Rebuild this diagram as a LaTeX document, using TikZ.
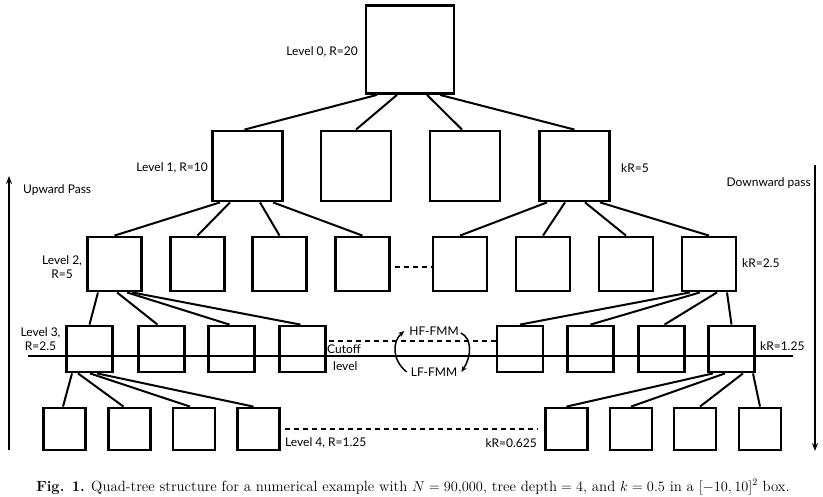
\documentclass[tikz,border=0pt]{standalone}
\usepackage{fontspec}
\newfontfamily\labelfont{Lato}
\usetikzlibrary{arrows.meta}
\tikzset{
  qbox/.style={draw, line width=2.8pt, inner sep=0pt, minimum width=#1, minimum height=#1},
  link/.style={line width=2pt},
  dotlink/.style={line width=2pt, dash pattern=on 5pt off 4pt},
  lbl/.style={font=\labelfont\fontsize{12}{13}\selectfont, inner sep=0pt},
  passarrow/.style={line width=1.4pt, -{Stealth[length=8pt,width=6pt]}},
  fmmarrow/.style={line width=1.5pt, -{Stealth[length=6pt,width=5pt]}}
}
\begin{document}
\begin{tikzpicture}[x=1pt,y=-1pt]
\useasboundingbox (0,0) rectangle (823,497);
% Level 0
\node[qbox=88pt] (L0) at (410,49.5) {};
% Level 1
\foreach \n/\x in {a/247.5,b/356,c/465,d/574.5}
  \node[qbox=70pt] (L1\n) at (\x,166) {};
% Level 2
\foreach \n/\x in {a/114.5,b/197.5,c/279.5,d/362.5,e/460,f/543,g/626,h/709}
  \node[qbox=54pt] (L2\n) at (\x,264) {};
% Level 3
\foreach \n/\x in {a/89.5,b/161.5,c/231.5,d/302.5,e/520,f/590.5,g/661.5,h/731.5}
  \node[qbox=46pt] (L3\n) at (\x,349) {};
% Level 4
\foreach \n/\x in {a/64.5,b/129.5,c/194,d/258.5,e/566.5,f/631,g/695,h/760}
  \node[qbox=42pt] (L4\n) at (\x,429) {};

% connectors level 0 -> 1
\draw[link] ([xshift=-33pt]L0.south) -- ([xshift=-3pt]L1a.north);
\draw[link] ([xshift=-13pt]L0.south) -- (L1b.north);
\draw[link] ([xshift=17pt]L0.south) -- ([xshift=-3pt]L1c.north);
\draw[link] ([xshift=30pt]L0.south) -- (L1d.north);
% level 1 -> 2
\draw[link] ([xshift=-27.5pt]L1a.south) -- (L2a.north);
\draw[link] ([xshift=-17.5pt]L1a.south) -- (L2b.north);
\draw[link] ([xshift=12.5pt]L1a.south) -- (L2c.north);
\draw[link] ([xshift=25.5pt]L1a.south) -- (L2d.north);
\draw[link] ([xshift=-27.5pt]L1d.south) -- (L2e.north);
\draw[link] ([xshift=-9.5pt]L1d.south) -- (L2f.north);
\draw[link] ([xshift=10.5pt]L1d.south) -- (L2g.north);
\draw[link] ([xshift=25.5pt]L1d.south) -- (L2h.north);
% level 2 -> 3
\draw[link] ([xshift=-16.5pt]L2a.south) -- (L3a.north);
\draw[link] ([xshift=2.5pt]L2a.south) -- ([xshift=-4pt]L3b.north);
\draw[link] ([xshift=12.5pt]L2a.south) -- ([xshift=-2pt]L3c.north);
\draw[link] ([xshift=17.5pt]L2a.south) -- ([xshift=-2pt]L3d.north);
\draw[link] ([xshift=-19pt]L2h.south) -- (L3e.north);
\draw[link] ([xshift=-9pt]L2h.south) -- (L3f.north);
\draw[link] ([xshift=8pt]L2h.south) -- ([xshift=3pt]L3g.north);
\draw[link] ([xshift=18pt]L2h.south) -- (L3h.north);
% level 3 -> 4
\draw[link] ([xshift=-17.5pt]L3a.south) -- ([xshift=-1.5pt]L4a.north);
\draw[link] ([xshift=-11.5pt]L3a.south) -- ([xshift=-6pt]L4b.north);
\draw[link] ([xshift=0.5pt]L3a.south) -- ([xshift=-4pt]L4c.north);
\draw[link] ([xshift=7.5pt]L3a.south) -- ([xshift=-5pt]L4d.north);
\draw[link] ([xshift=-18.5pt]L3h.south) -- (L4e.north);
\draw[link] ([xshift=-6.5pt]L3h.south) -- (L4f.north);
\draw[link] ([xshift=11.5pt]L3h.south) -- ([xshift=5pt]L4g.north);
\draw[link] ([xshift=21.5pt]L3h.south) -- (L4h.north);

% dashed continuations
\draw[dotlink] ([xshift=4pt,yshift=-3pt]L2d.east) -- ([yshift=-3pt]L2e.west);
\draw[dotlink] ([xshift=2pt,yshift=8pt]L3d.east) -- ([yshift=8pt]L3e.west);
\draw[dotlink] ([xshift=4pt]L4d.east) -- ([xshift=-7pt]L4e.west);

% cutoff line
\coordinate (cutL) at (28,356);
\coordinate (cutR) at (793,356);
\draw[line width=1.9pt] (cutL) -- (cutR);

% pass arrows
\coordinate (upS) at (9,450);
\coordinate (upE) at (9,176);
\draw[passarrow] (upS) -- (upE);
\coordinate (dnS) at (815,165);
\coordinate (dnE) at (815,451);
\draw[passarrow] (dnS) -- (dnE);

% labels
\node[lbl, anchor=east] (t0) at (358,52) {Level 0, R=20};
\node[lbl, anchor=east] (t1) at (208,168) {Level 1, R=10};
\node[lbl, anchor=west] (tup) at (23,190) {Upward Pass};
\node[lbl, anchor=west] (tk1) at (621,168) {kR=5};
\node[lbl, anchor=east] (tdn) at (811,183) {Downward pass};
\node[lbl, align=center] (t2) at (62,267) {Level 2,\\[1pt]R=5};
\node[lbl, anchor=west] (tk2) at (742,263) {kR=2.5};
\node[lbl, align=center] (t3) at (40.5,339) {Level 3,\\[1pt]R=2.5};
\node[lbl, anchor=west] (tk3) at (760,346) {kR=1.25};
\node[lbl, anchor=west] (tcut) at (327,349) {Cutoff};
\node[lbl, anchor=west] (tlev) at (333,366) {level};
\node[lbl] (thf) at (434,331) {HF-FMM};
\node[lbl] (tlf) at (434,372) {LF-FMM};
\node[lbl, anchor=west] (t4) at (285,443) {Level 4, R=1.25};
\node[lbl, anchor=east] (tk4) at (537,443) {kR=0.625};

% FMM switching arrows
\draw[fmmarrow] (tlf.west) ++(-4pt,0pt) coordinate (lfa)
   (lfa) .. controls (392,360) and (392,342) .. ([xshift=-5pt]thf.west);
\draw[fmmarrow] ([xshift=2pt,yshift=-2pt]thf.east) .. controls (472,338) and (472,356) .. ([xshift=4pt]tlf.east);

% caption
\node[font=\fontsize{14.8}{16}\selectfont, inner sep=0pt] (cap) at (413,487)
  {\textbf{Fig. 1.} Quad-tree structure for a numerical example with $N=90{,}000$, tree depth${}=4$, and $k=0.5$ in a $[-10,10]^2$ box.};
\end{tikzpicture}
\end{document}
